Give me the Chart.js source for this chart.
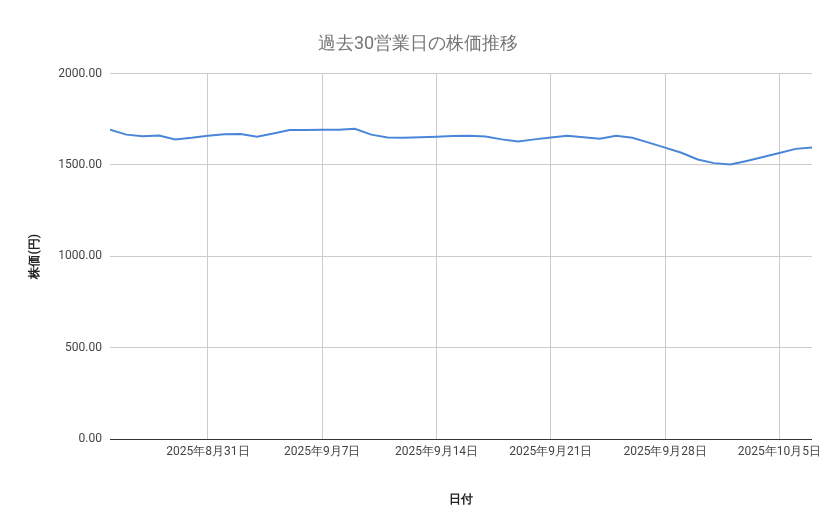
<!DOCTYPE html>
<html><head><meta charset="utf-8">
<script src="https://cdn.jsdelivr.net/npm/chart.js@4"></script>
<style>body{margin:0;background:#fff}</style></head>
<body><canvas id="c" width="839" height="519"></canvas>
<script>
const dates = ["2025年8月25日","2025年8月26日","2025年8月27日","2025年8月28日","2025年8月29日","2025年8月30日","2025年8月31日",
"2025年9月1日","2025年9月2日","2025年9月3日","2025年9月4日","2025年9月5日","2025年9月6日","2025年9月7日",
"2025年9月8日","2025年9月9日","2025年9月10日","2025年9月11日","2025年9月12日","2025年9月13日","2025年9月14日",
"2025年9月15日","2025年9月16日","2025年9月17日","2025年9月18日","2025年9月19日","2025年9月20日","2025年9月21日",
"2025年9月22日","2025年9月23日","2025年9月24日","2025年9月25日","2025年9月26日","2025年9月27日","2025年9月28日",
"2025年9月29日","2025年9月30日","2025年10月1日","2025年10月2日","2025年10月3日","2025年10月4日","2025年10月5日",
"2025年10月6日","2025年10月7日"];
const prices = [1693,1666,1657,1661,1640,1649,1660,1668,1669,1655,1672,1691,1691,1692,1693,1698,1666,1650,1649,1652,1655,1658,1660,1656,1640,1629,1640,1650,1660,1652,1644,1660,1649,1622,1595,1567,1530,1510,1503,1522,1543,1565,1588,1595];
const tickIdx = [6,13,20,27,34,41];
const font = {family:'Roboto', size:12};
new Chart(document.getElementById('c'), {
  type:'line',
  data:{datasets:[{data:prices.map((v,i)=>({x:i,y:v})),borderColor:'#4a86d8',borderWidth:2,pointRadius:0,tension:0}]},
  options:{
    responsive:false,animation:false,
    layout:{padding:{left:24,right:27,top:10,bottom:8}},
    plugins:{legend:{display:false},tooltip:{enabled:false},
      title:{display:true,text:'過去30営業日の株価推移',color:'#757575',font:{family:'Roboto',size:18,weight:'normal'},padding:{top:24,bottom:18}}},
    scales:{
      x:{type:'linear',min:0,max:43,
        afterBuildTicks:s=>{s.ticks=tickIdx.map(v=>({value:v}));},
        afterFit:s=>{s.height=72;},
        ticks:{autoSkip:false,maxRotation:0,color:'#444',font,padding:6,callback:v=>dates[v]},
        grid:{color:'#cccccc',drawTicks:false},border:{display:false},
        title:{display:true,text:'日付',color:'#222',font:{family:'Roboto',size:12,weight:'bold'},padding:{top:14}}},
      y:{min:0,max:2000,
        afterFit:s=>{s.width=86;},
        ticks:{stepSize:500,color:'#444',font,padding:8,callback:v=>v.toFixed(2)},
        grid:{color:c=>c.tick&&c.tick.value===0?'#333':'#cccccc',drawTicks:false},border:{display:false},
        title:{display:true,text:'株価(円)',color:'#222',font:{family:'Roboto',size:12,weight:'bold'}}}
    }
  }
});
</script></body></html>
